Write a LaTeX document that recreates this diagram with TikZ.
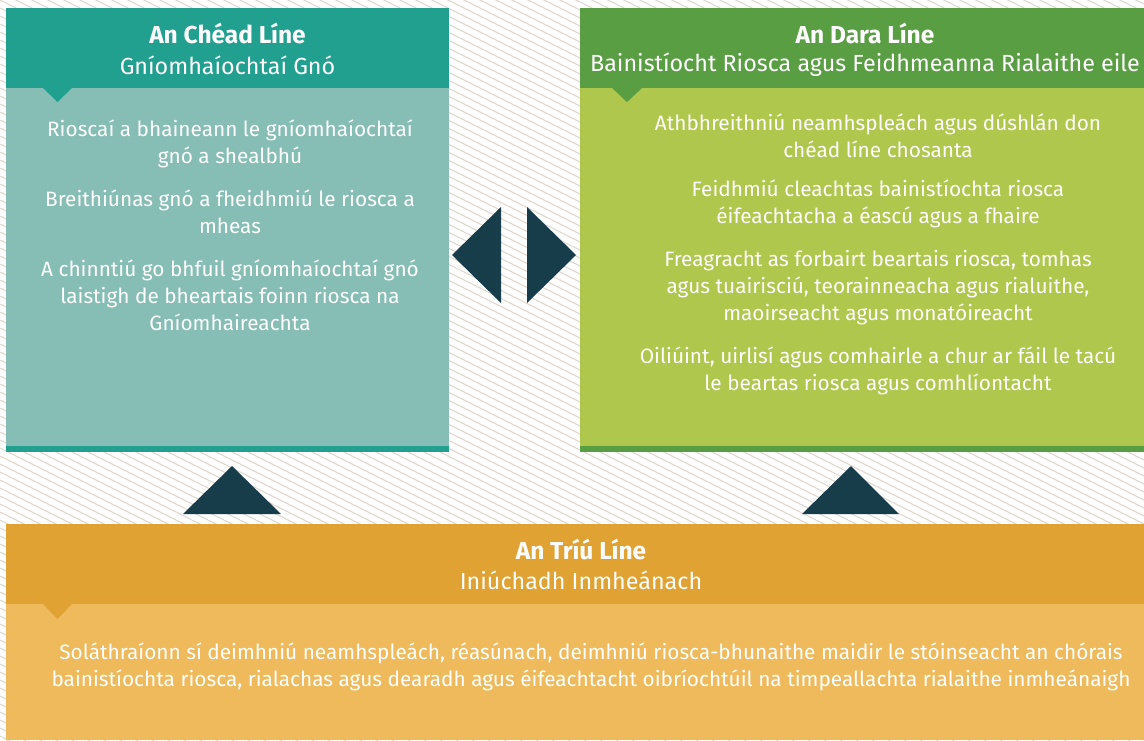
\documentclass[tikz,border=0pt]{standalone}
\usepackage{fontspec}
\setmainfont{Fira Sans}
\definecolor{tealH}{HTML}{21A090}
\definecolor{tealB}{HTML}{86BDB5}
\definecolor{greenH}{HTML}{5A9E44}
\definecolor{greenB}{HTML}{AFC74D}
\definecolor{orangeH}{HTML}{E0A233}
\definecolor{orangeB}{HTML}{EFBA5C}
\definecolor{navy}{HTML}{173D4B}
\definecolor{hatchc}{HTML}{DDD7CD}
\begin{document}
\begin{tikzpicture}[x=1pt,y=-1pt,
  ttl/.style={text=white, inner sep=0pt, font=\bfseries\fontsize{24.5}{28}\selectfont},
  sub/.style={text=white, inner sep=0pt, font=\fontsize{23.3}{27}\selectfont},
  body/.style={text=white, inner sep=0pt, align=center, font=\fontsize{20.8}{27}\selectfont},
  arr/.style={fill=navy}]
\useasboundingbox (0,0) rectangle (1144,740);
\fill[white] (0,0) rectangle (1144,740);
\begin{scope}
\clip (0,0) rectangle (1144,740);
\foreach \i in {-600,-592,...,744} \draw[hatchc, line width=1.1pt] (0,\i) -- (1144,\i+572);
\end{scope}
% left box
\fill[tealB] (6,88) rectangle (449,446);
\fill[tealH] (6,8) rectangle (449,88);
\fill[tealH] (6,446) rectangle (449,452);
\fill[tealH] (43,88) -- (57.5,102) -- (72,88) -- cycle;
% right box
\fill[greenB] (580,88) rectangle (1144,446);
\fill[greenH] (580,8) rectangle (1144,88);
\fill[greenH] (580,446) rectangle (1144,452);
\fill[greenH] (612,88) -- (627,102) -- (642,88) -- cycle;
% bottom box
\fill[orangeB] (6,604) rectangle (1144,740);
\fill[orangeH] (6,524) rectangle (1144,604);
\fill[orangeH] (43,604) -- (57.5,619) -- (72,604) -- cycle;
% arrows
\fill[arr] (452,255) -- (501,207) -- (501,303) -- cycle;
\fill[arr] (576,255) -- (527,207) -- (527,303) -- cycle;
\fill[arr] (183,514) -- (232,466) -- (281,514) -- cycle;
\fill[arr] (802,514) -- (851,466) -- (899,514) -- cycle;
% left texts
\node[ttl] (t1) at (227.5,33) {An Chéad Líne};
\node[sub] (s1) at (227.5,65) {Gníomhaíochtaí Gnó};
\node[body] (l1) at (230,143.5) {Rioscaí a bhaineann le gníomhaíochtaí\\gnó a shealbhú};
\node[body] (l2) at (230,211.5) {Breithiúnas gnó a fheidhmiú le riosca a\\mheas};
\node[body] (l3) at (230,295) {A chinntiú go bhfuil gníomhaíochtaí gnó\\laistigh de bheartais foinn riosca na\\Gníomhaireachta};
% right texts
\node[ttl] (t2) at (865,33) {An Dara Líne};
\node[sub] (s2) at (865,65) {Bainistíocht Riosca agus Feidhmeanna Rialaithe eile};
\node[body] (r1) at (878,135.5) {Athbhreithniú neamhspleách agus dúshlán don\\chéad líne chosanta};
\node[body] (r2) at (878,203.5) {Feidhmiú cleachtas bainistíochta riosca\\éifeachtacha a éascú agus a fhaire};
\node[body] (r3) at (878,288) {Freagracht as forbairt beartais riosca, tomhas\\agus tuairisciú, teorainneacha agus rialuithe,\\maoirseacht agus monatóireacht};
\node[body] (r4) at (878,370.5) {Oiliúint, uirlisí agus comhairle a chur ar fáil le tacú\\le beartas riosca agus comhlíontacht};
% bottom texts
\node[ttl] (t3) at (581,549) {An Tríú Líne};
\node[sub] (s3) at (581,580) {Iniúchadh Inmheánach};
\node[body] (b1) at (591,666.5) {Soláthraíonn sí deimhniú neamhspleách, réasúnach, deimhniú riosca-bhunaithe maidir le stóinseacht an chórais\\bainistíochta riosca, rialachas agus dearadh agus éifeachtacht oibríochtúil na timpeallachta rialaithe inmheánaigh};
\end{tikzpicture}
\end{document}
